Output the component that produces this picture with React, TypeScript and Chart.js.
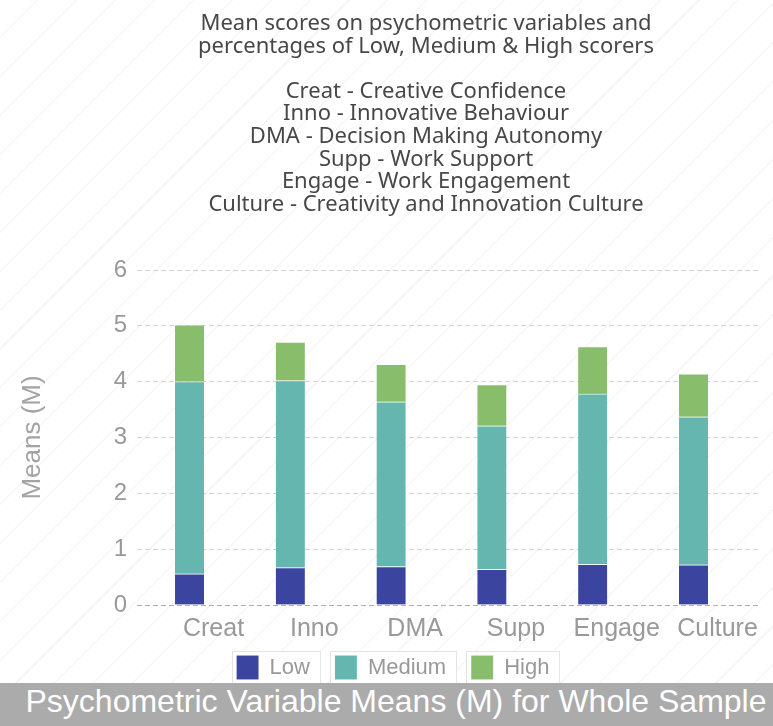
import React, { useEffect, useRef } from 'react';
import { Chart, registerables } from 'chart.js';

Chart.register(...registerables);

// ---- data ----
const categories = ['Creat', 'Inno', 'DMA', 'Supp', 'Engage', 'Culture'];
const seriesNames = ['Low', 'Medium', 'High'];
const lowValues = [0.56, 0.67, 0.69, 0.64, 0.73, 0.72];
const mediumValues = [3.44, 3.35, 2.95, 2.57, 3.05, 2.65];
const highValues = [1.02, 0.69, 0.67, 0.74, 0.85, 0.77];
const yMin = 0;
const yMax = 6;
const yStep = 1;
const titleLines = [
  'Mean scores on psychometric variables and',
  'percentages of Low, Medium & High scorers',
  '',
  'Creat - Creative Confidence',
  'Inno - Innovative Behaviour',
  'DMA - Decision Making Autonomy',
  'Supp - Work Support',
  'Engage - Work Engagement',
  'Culture - Creativity and Innovation Culture',
];
const yAxisTitle = 'Means (M)';
const bannerText = 'Psychometric Variable Means (M) for Whole Sample';

// ---- style ----
const colors = ['#3B45A0', '#64B6AE', '#88BE6B'];
const SANS = "'Liberation Sans', Arial, Helvetica, sans-serif";

const legendBoxes = {
  id: 'legendBoxes',
  afterLayout(chart: any) {
    const lg = chart.legend;
    if (!lg) return;
    lg.left += 14;
    lg.right += 14;
    const dy = chart.chartArea.bottom + 25.5 - lg.top;
    lg.top += dy;
    lg.bottom += dy;
  },
  beforeDraw(chart: any) {
    const lg = chart.legend;
    if (!lg || !lg.legendHitBoxes) return;
    const ctx = chart.ctx;
    ctx.save();
    lg.legendHitBoxes.forEach((h: any) => {
      const x = Math.round(h.left - 5) + 0.5;
      const y = Math.round(h.top - 5) + 0.5;
      const w = Math.round(h.width + 15);
      const hh = Math.round(h.height + 10);
      ctx.fillStyle = 'rgba(255,255,255,0.9)';
      ctx.fillRect(x, y, w, hh);
      ctx.strokeStyle = '#e4e4e4';
      ctx.lineWidth = 1;
      ctx.strokeRect(x, y, w, hh);
    });
    ctx.restore();
  },
};

export default function App() {
  const canvasRef = useRef<HTMLCanvasElement | null>(null);

  useEffect(() => {
    if (!canvasRef.current) return;
    const seriesValues = [lowValues, mediumValues, highValues];
    const chart = new Chart(canvasRef.current, {
      type: 'bar',
      data: {
        datasets: seriesNames.map((name, s) => ({
          label: name,
          data: seriesValues[s].map((v, i) => ({ x: i, y: v })),
          backgroundColor: colors[s],
          borderColor: 'rgba(255,255,255,0.45)',
          borderWidth: { top: 1, left: 0, right: 0, bottom: 0 },
          borderSkipped: false,
          barThickness: 29,
        })),
      },
      plugins: [legendBoxes],
      options: {
        responsive: false,
        animation: false,
        layout: { padding: { top: 270, left: 0, right: 15, bottom: 22 } },
        plugins: {
          title: { display: false },
          tooltip: { enabled: false },
          legend: {
            position: 'bottom',
            labels: {
              boxWidth: 22,
              boxHeight: 24,
              padding: 25,
              color: '#999999',
              font: { family: SANS, size: 22 },
            },
          },
        },
        scales: {
          x: {
            type: 'linear',
            stacked: true,
            offset: false,
            min: -0.521,
            max: 5.64,
            grid: { display: false, drawTicks: false, offset: false },
            border: { display: false },
            afterBuildTicks: (scale: any) => {
              scale.ticks = categories.map((_, i) => ({ value: i }));
            },
            afterFit: (scale: any) => {
              scale.height = 40;
            },
            ticks: {
              autoSkip: false,
              maxRotation: 0,
              minRotation: 0,
              padding: 9.5,
              labelOffset: 24,
              color: '#999999',
              font: { family: SANS, size: 25 },
              callback: (value: any) => categories[value as number] ?? '',
            },
          },
          y: {
            stacked: true,
            min: yMin,
            max: yMax,
            afterFit: (scale: any) => {
              scale.width = 137;
            },
            ticks: {
              stepSize: yStep,
              padding: 10,
              color: '#999999',
              font: { family: SANS, size: 24 },
            },
            grid: {
              drawTicks: false,
              color: (ctx: any) => (ctx.tick && ctx.tick.value === 0 ? '#b0b0b0' : '#d2d2d2'),
              lineWidth: 1,
            },
            border: { display: false, dash: [5, 3] },
            title: {
              display: true,
              text: yAxisTitle,
              color: '#a3a3a3',
              font: { family: SANS, size: 26 },
              padding: { top: 17, bottom: 0 },
            },
          },
        },
      },
    } as any);
    return () => chart.destroy();
  }, []);

  return (
    <div
      style={{
        position: 'absolute',
        left: 0,
        top: 0,
        width: 773,
        height: 726,
        overflow: 'hidden',
        backgroundColor: '#ffffff',
        backgroundImage:
          'repeating-linear-gradient(135deg, rgba(0,0,0,0) 0px, rgba(0,0,0,0) 26px, rgba(0,0,0,0.035) 26px, rgba(0,0,0,0.035) 27.5px)',
      }}
    >
      <canvas
        ref={canvasRef}
        width={773}
        height={726}
        style={{ position: 'absolute', left: 0, top: 0, display: 'block' }}
      />
      <div
        style={{
          position: 'absolute',
          left: 79,
          top: 0,
          width: 694,
          paddingTop: 10,
          textAlign: 'center',
          fontFamily: "'Noto Sans', 'Open Sans', sans-serif",
          fontSize: 22,
          lineHeight: '22.6px',
          color: '#474747',
          whiteSpace: 'pre',
        }}
      >
        {titleLines.map((t, i) => (
          <div key={i} style={{ height: 22.6 }}>
            {t}
          </div>
        ))}
      </div>
      <div
        style={{
          position: 'absolute',
          left: 0,
          top: 683,
          width: 773,
          height: 43,
          boxSizing: 'border-box',
          paddingLeft: 19,
          backgroundColor: '#ababab',
          color: '#ffffff',
          fontFamily: SANS,
          fontSize: 32,
          lineHeight: '37px',
          textAlign: 'center',
          whiteSpace: 'nowrap',
        }}
      >
        {bannerText}
      </div>
    </div>
  );
}
